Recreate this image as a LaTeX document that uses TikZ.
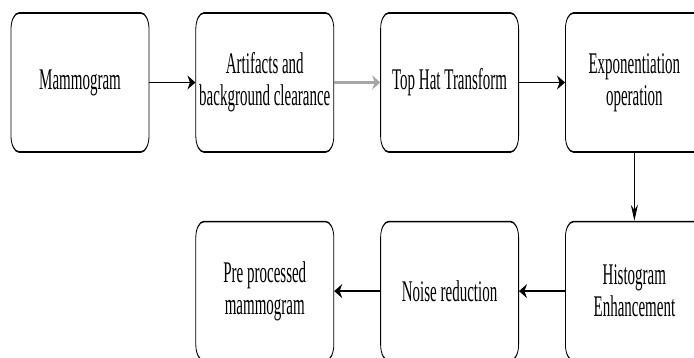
\documentclass[tikz,border=0pt]{standalone}
\usepackage{fontspec}
\setmainfont{Liberation Serif}
\usetikzlibrary{positioning,arrows.meta}

\begin{document}
\begin{tikzpicture}[
  stepbox/.style={draw,line width=1.6pt,rounded corners=16pt,minimum width=276pt,
    minimum height=139pt,align=center,inner sep=2pt,
    font=\fontsize{30}{32}\selectfont}]
  \useasboundingbox[fill=white] (0,0) rectangle (694pt,-358pt);
  \begin{scope}[transform canvas={xscale=0.5},node distance=68pt and 92pt]
  \node (mammo) [stepbox] at (160pt,-82.5pt) {Mammogram};
  \node (artif) [stepbox,right=of mammo] {Artifacts and\\background clearance};
  \node (tophat) [stepbox,right=of artif] {Top Hat Transform};
  \node (expo) [stepbox,right=of tophat] {Exponentiation\\operation};
  \node (histo) [stepbox,below=of expo] {Histogram\\Enhancement};
  \node (noise) [stepbox,left=of histo] {Noise reduction};
  \node (prepro) [stepbox,left=of noise] {Pre processed\\mammogram};
  \path[-{Stealth[length=16pt,width=14pt]},line width=1.6pt]

    (mammo) edge (artif)
    (artif) edge [gray!70,line width=3pt] (tophat)
    (tophat) edge (expo)

    (expo) edge (histo)

    (histo) edge (noise)
    (noise) edge (prepro);
  \end{scope}
\end{tikzpicture}
\end{document}
